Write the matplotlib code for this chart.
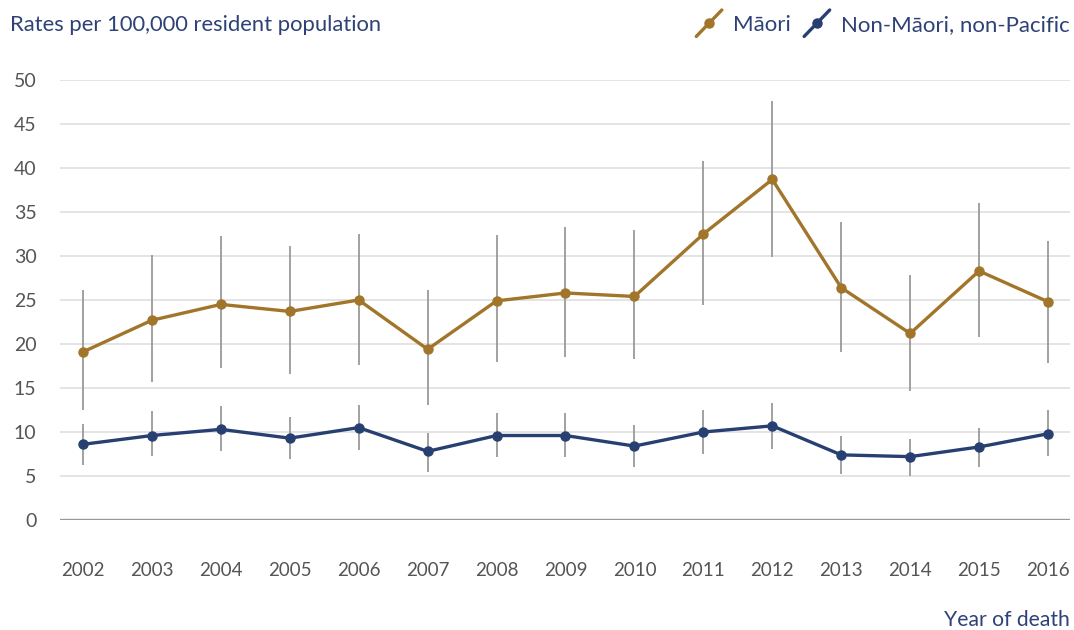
import matplotlib
matplotlib.use("Agg")
import matplotlib.pyplot as plt
from matplotlib.lines import Line2D
from matplotlib.legend_handler import HandlerBase

years = [2002, 2003, 2004, 2005, 2006, 2007, 2008, 2009, 2010, 2011, 2012, 2013, 2014, 2015, 2016]

maori = [19.1, 22.7, 24.5, 23.7, 25.0, 19.4, 24.9, 25.8, 25.4, 32.5, 38.7, 26.4, 21.2, 28.3, 24.8]
maori_low = [12.5, 15.7, 17.3, 16.6, 17.6, 13.1, 17.9, 18.5, 18.3, 24.4, 29.9, 19.1, 14.7, 20.8, 17.8]
maori_high = [26.1, 30.1, 32.3, 31.1, 32.5, 26.1, 32.4, 33.3, 33.0, 40.8, 47.6, 33.9, 27.8, 36.0, 31.7]

other = [8.6, 9.6, 10.3, 9.3, 10.5, 7.8, 9.6, 9.6, 8.4, 10.0, 10.7, 7.4, 7.2, 8.3, 9.8]
other_low = [6.3, 7.3, 7.8, 6.9, 8.0, 5.5, 7.2, 7.2, 6.0, 7.5, 8.1, 5.2, 5.0, 6.0, 7.3]
other_high = [10.9, 12.4, 12.9, 11.7, 13.1, 9.9, 12.2, 12.2, 10.8, 12.5, 13.3, 9.6, 9.2, 10.5, 12.5]

y_ticks = [0, 5, 10, 15, 20, 25, 30, 35, 40, 45, 50]

GOLD = "#A1752A"
NAVY = "#283F72"
TEXT_NAVY = "#2E4277"
TICK_GREY = "#555555"
ERR_GREY = "#9A9A9A"
GRID = "#DDDDDD"

plt.rcParams["font.family"] = ["Lato", "DejaVu Sans"]

fig = plt.figure(figsize=(10.74, 6.30), dpi=100)
W, H = 1074, 630
ax = fig.add_axes([60 / W, 1 - 520 / H, 1010 / W, 440 / H])

for y in y_ticks[1:]:
    ax.axhline(y, color=GRID, lw=1.1, zorder=0)
ax.axhline(0, color="#999999", lw=2.4, zorder=1)

for vals, lo, hi, col in [(maori, maori_low, maori_high, GOLD),
                          (other, other_low, other_high, NAVY)]:
    ax.vlines(years, lo, hi, color=ERR_GREY, lw=1.3, zorder=2)
    ax.plot(years, vals, color=col, lw=2.4, marker="o", ms=6.5,
            zorder=3, clip_on=False)

ax.set_xlim(2002 - 23 / 68.93, 2016 + 22 / 68.93)
ax.set_ylim(0, 50)
ax.set_yticks(y_ticks)
ax.set_xticks(years)
ax.set_xticklabels([str(y) for y in years])
for s in ax.spines.values():
    s.set_visible(False)
ax.tick_params(axis="y", length=0, pad=17, labelsize=14, labelcolor=TICK_GREY)
ax.tick_params(axis="x", length=0, pad=30, labelsize=13.5, labelcolor=TICK_GREY)

fig.text(10 / W, 1 - 25 / H, "Rates per 100,000 resident population",
         color=TEXT_NAVY, fontsize=15.8, va="center", ha="left")
fig.text(1070 / W, 1 - 620 / H, "Year of death",
         color=TEXT_NAVY, fontsize=15.2, va="center", ha="right")


class DiagonalHandler(HandlerBase):
    def create_artists(self, legend, orig_handle, xdescent, ydescent,
                       width, height, fontsize, trans):
        cx, cy = width / 2 - xdescent, height / 2 - ydescent
        dx, dy = width * 0.5, height * 0.85
        ln = Line2D([cx - dx, cx + dx], [cy - dy, cy + dy],
                    color=orig_handle.get_color(), lw=2.4,
                    solid_capstyle="round", transform=trans)
        mk = Line2D([cx], [cy], marker="o", ms=6.5, ls="none",
                    color=orig_handle.get_color(), transform=trans)
        return [ln, mk]


handles = [Line2D([], [], color=GOLD), Line2D([], [], color=NAVY)]
leg = fig.legend(handles, ["Māori", "Non-Māori, non-Pacific"],
                 loc="center right", bbox_to_anchor=(1074 / W, 1 - 25 / H),
                 ncol=2, frameon=False, fontsize=16, handlelength=1.15,
                 handletextpad=0.5, columnspacing=0.6, borderaxespad=0,
                 borderpad=0.2,
                 handler_map={Line2D: DiagonalHandler()})
for t in leg.get_texts():
    t.set_color(TEXT_NAVY)

fig.savefig("out.png", dpi=100, facecolor="white")
